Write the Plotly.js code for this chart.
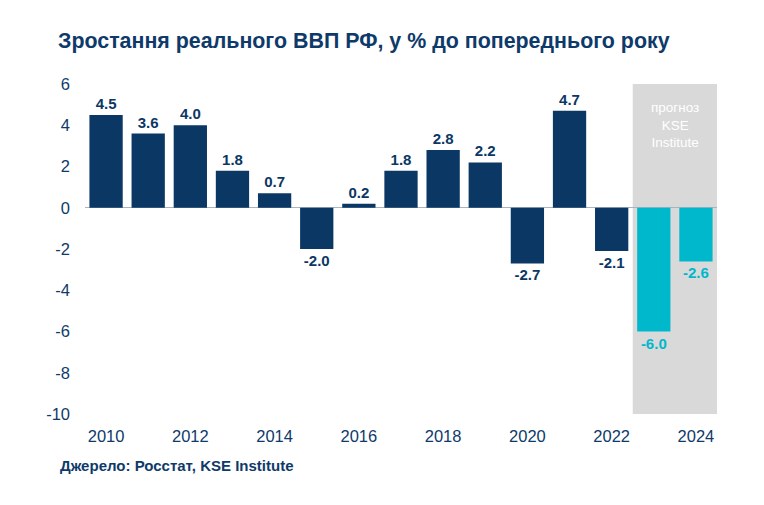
<!DOCTYPE html>
<html>
<head>
<meta charset="utf-8">
<script src="https://cdn.plot.ly/plotly-3.0.1.min.js"></script>
<style>
  html, body { margin: 0; padding: 0; background: #fff; }
  #chart { width: 764px; height: 505px; }
</style>
</head>
<body>
<div id="chart"></div>
<script>
/* Real GDP growth, Russia, % y/y (2023-2024 = KSE forecast) */
const years    = [2010, 2011, 2012, 2013, 2014, 2015, 2016, 2017, 2018, 2019, 2020, 2021, 2022, 2023, 2024];
const growth   = [4.5, 3.6, 4.0, 1.8, 0.7, -2.0, 0.2, 1.8, 2.8, 2.2, -2.7, 4.7, -2.1, -6.0, -2.6];
const forecast = [false, false, false, false, false, false, false, false, false, false, false, false, false, true, true];
const tickYears = [2010, 2012, 2014, 2016, 2018, 2020, 2022, 2024];
const yTicks    = [-10, -8, -6, -4, -2, 0, 2, 4, 6];

const COLORS = {
  navy:  '#0B3764',
  text:  '#0E3A6A',
  cyan:  '#00B8CC',
  band:  '#D9D9D9',
  zero:  '#A9B4BF',
};
const FONT = 'Liberation Sans, Arial, sans-serif';

const barColors = forecast.map(f => f ? COLORS.cyan : COLORS.navy);

const trace = {
  type: 'bar',
  x: years,
  y: growth,
  marker: { color: barColors },
  text: growth.map(v => v.toFixed(1)),
  textposition: 'outside',
  cliponaxis: false,
  textfont: { family: FONT, size: 15, color: barColors, weight: 'bold' },
  hoverinfo: 'skip',
};

const layout = {
  width: 764,
  height: 505,
  paper_bgcolor: '#fff',
  plot_bgcolor: 'rgba(0,0,0,0)',
  showlegend: false,
  bargap: 0.21,
  margin: { t: 84, r: 47, b: 91, l: 85 },
  font: { family: FONT, color: COLORS.text, size: 16 },
  title: {
    text: '<b>Зростання реального ВВП РФ, у % до попереднього року</b>',
    font: { family: FONT, size: 21.4, color: COLORS.text },
    xref: 'container', x: 58 / 764, xanchor: 'left',
    yref: 'container', y: 1 - 48 / 505, yanchor: 'bottom',
  },
  xaxis: {
    range: [2009.5, 2024.5],
    tickvals: tickYears,
    showgrid: false,
    zeroline: false,
    showline: false,
    ticks: '',
    ticklabelstandoff: 10,
    tickfont: { size: 16.5, color: COLORS.text },
  },
  yaxis: {
    range: [-10, 6],
    tickvals: yTicks,
    ticktext: yTicks.map(String),
    showgrid: false,
    zeroline: true,
    zerolinecolor: COLORS.zero,
    zerolinewidth: 1,
    showline: false,
    ticks: '',
    ticklabelstandoff: 14,
    tickfont: { size: 16.5, color: COLORS.text },
  },
  shapes: [{
    type: 'rect', layer: 'below',
    xref: 'x', yref: 'y',
    x0: 2022.5, x1: 2024.5, y0: -10, y1: 6,
    fillcolor: COLORS.band, line: { width: 0 },
  }],
  annotations: [
    {
      xref: 'x', yref: 'y', x: 2023.5, y: 5.3,
      text: 'прогноз<br>KSE<br>Institute',
      showarrow: false, yanchor: 'top', align: 'center',
      font: { family: FONT, size: 13.5, color: '#FFFFFF' },
    },
    {
      xref: 'paper', yref: 'paper', x: (58 - 85) / 632, y: -(466 - 414) / 330,
      xanchor: 'left', yanchor: 'middle', showarrow: false,
      text: '<b>Джерело: Росстат, KSE Institute</b>',
      font: { family: FONT, size: 15, color: COLORS.text },
    },
  ],
};

Plotly.newPlot('chart', [trace], layout, { displayModeBar: false, staticPlot: true });
</script>
</body>
</html>
